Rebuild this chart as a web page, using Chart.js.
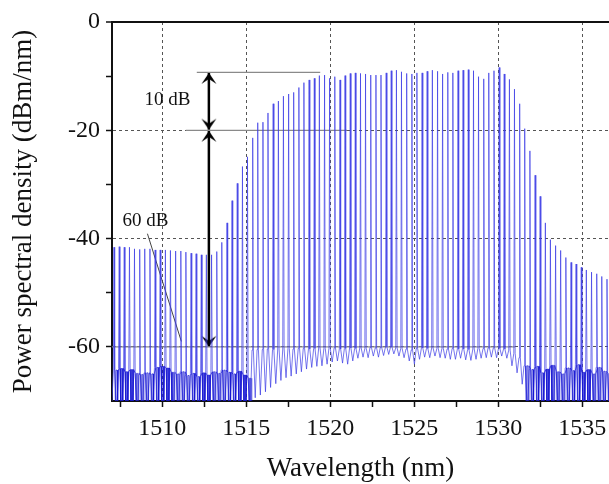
<!DOCTYPE html>
<html>
<head>
<meta charset="utf-8">
<script src="https://cdn.jsdelivr.net/npm/chart.js@4.4.0/dist/chart.umd.min.js"></script>
<style>
  html, body { margin: 0; padding: 0; background: #fff; }
  #wrap { width: 609px; height: 484px; }
</style>
</head>
<body>
<div id="wrap"><canvas id="chart" width="609" height="484"></canvas></div>
<script>
// comb line positions (nm)
const wavelengths = [1507.12,1507.43,1507.73,1508.04,1508.34,1508.65,1508.95,1509.26,1509.57,1509.87,
  1510.18,1510.48,1510.79,1511.10,1511.40,1511.71,1512.01,1512.32,1512.62,1512.93,
  1513.24,1513.54,1513.85,1514.15,1514.46,1514.77,1515.07,1515.38,1515.68,1515.99,
  1516.29,1516.60,1516.91,1517.21,1517.52,1517.82,1518.13,1518.43,1518.74,1519.05,
  1519.35,1519.66,1519.96,1520.27,1520.58,1520.88,1521.19,1521.49,1521.80,1522.10,
  1522.41,1522.72,1523.02,1523.33,1523.63,1523.94,1524.24,1524.55,1524.86,1525.16,
  1525.47,1525.77,1526.08,1526.39,1526.69,1527.00,1527.30,1527.61,1527.91,1528.22,
  1528.53,1528.83,1529.14,1529.44,1529.75,1530.06,1530.36,1530.67,1530.97,1531.28,
  1531.58,1531.89,1532.20,1532.50,1532.81,1533.11,1533.42,1533.72,1534.03,1534.34,
  1534.64,1534.95,1535.25,1535.56,1535.87,1536.17,1536.48];

// peak power of each line (dBm/nm)
const peakLevels = [-41.6,-41.5,-41.6,-41.6,-41.9,-42.0,-41.9,-41.9,-42.1,-42.1,
  -42.1,-42.2,-42.3,-42.3,-42.5,-42.7,-42.8,-43.0,-43.0,-43.0,
  -42.4,-40.7,-37.1,-33.0,-29.8,-26.7,-24.9,-21.4,-18.6,-18.5,
  -16.8,-15.1,-14.6,-13.7,-13.3,-13.0,-12.1,-11.2,-10.7,-10.4,
  -9.9,-9.8,-10.4,-10.1,-10.7,-9.9,-9.5,-9.4,-9.5,-9.6,
  -9.8,-9.8,-9.8,-9.4,-9.0,-8.9,-9.2,-9.5,-9.6,-9.4,
  -9.4,-9.1,-8.9,-9.1,-9.6,-9.3,-9.4,-9.0,-8.9,-8.8,
  -9.0,-10.1,-10.5,-9.4,-9.0,-8.4,-9.6,-10.6,-12.4,-15.1,
  -19.7,-23.8,-28.3,-32.2,-37.1,-40.2,-41.3,-42.2,-43.5,-44.4,
  -44.7,-45.3,-45.8,-46.2,-46.5,-47.0,-47.5];

// level at the foot of each line
const kneeLevels = [-64.3,-64.0,-64.6,-64.2,-64.9,-65.1,-64.8,-65.0,-63.8,-63.6,
  -63.9,-64.7,-65.0,-64.6,-65.3,-64.9,-65.5,-64.8,-65.2,-64.6,
  -64.9,-64.3,-64.7,-65.0,-64.5,-65.2,-65.8,
  -60.6,-60.5,-60.5,-60.4,-60.5,-60.4,-60.4,-60.3,-60.4,-60.3,
  -60.3,-60.4,-60.3,-60.2,-60.3,-60.3,-60.2,-60.4,-60.3,-60.2,
  -60.3,-60.2,-60.3,-60.1,-60.2,-60.1,-60.0,-60.0,-60.2,-60.3,
  -60.4,-60.6,-60.3,-60.2,-60.3,-60.2,-60.3,-60.3,-60.4,-60.3,
  -60.4,-60.4,-60.5,-60.4,-60.3,-60.3,-60.2,-60.2,-60.3,-60.4,
  -60.6,-61.2,-62.0,
  -63.5,-64.2,-63.6,-64.8,-64.1,-63.4,-64.6,-65.0,-63.9,-64.4,
  -63.3,-64.7,-64.2,-65.0,-63.8,-64.5,-64.9];

// minimum between neighbouring lines
const dipLevels = [-72,-72,-72,-72,-72,-72,-72,-72,-72,-72,
  -72,-72,-72,-72,-72,-72,-72,-72,-72,-72,
  -72,-72,-72,-72,-72,-72,-72,
  -69.4,-68.9,-68.3,-67.5,-66.8,-66.2,-65.7,-65.4,-65.0,-64.6,
  -64.1,-63.8,-63.6,-63.5,-63.2,-62.8,-62.6,-63.0,-63.2,-62.6,
  -62.1,-61.9,-62.0,-61.7,-61.9,-61.6,-61.4,-61.3,-61.7,-62.0,
  -62.6,-63.2,-62.3,-61.9,-62.0,-61.7,-62.0,-62.1,-62.3,-62.3,
  -62.1,-62.4,-62.5,-62.3,-62.1,-62.0,-61.9,-62.0,-61.7,-62.1,
  -63.5,-64.8,-66.9,
  -72,-72,-72,-72,-72,-72,-72,-72,-72,-72,
  -72,-72,-72,-72,-72,-72,-72];

// axes
const xRange = [1507, 1536.6];
const yRange = [-70, 0];
const xTicks = [1507.5, 1510, 1512.5, 1515, 1517.5, 1520, 1522.5, 1525, 1527.5, 1530, 1532.5, 1535];
const xLabels = [1510, 1515, 1520, 1525, 1530, 1535];
const yTicks = [-60, -50, -40, -30, -20, -10, 0];
const yLabels = [-60, -40, -20, 0];

// annotations
const arrowX = 1512.77;
const arrowUpper = [-9.4, -19.9];
const arrowLower = [-20.1, -60];
const guideLevels = [-9.3, -20, -60];
const guideStart = [1512.05, 1511.4, 1507.0];
const guideEnd = [1519.4, 1521.0, 1531.0];
const pointerX = [1509.11, 1511.13];
const pointerY = [-39.1, -59.0];
const noteTexts = ['10 dB', '60 dB'];
const noteX = [1510.3, 1508.99];
const noteY = [-14.4, -36.8];

const serif = '"Liberation Serif", "Times New Roman", serif';

// build the spectrum trace from the line table
const spectrum = [];
const noise = [];
spectrum.push({ x: wavelengths[0] - 0.15, y: dipLevels[0] });
for (let i = 0; i < wavelengths.length; i++) {
  const w = wavelengths[i];
  const next = i + 1 < wavelengths.length ? wavelengths[i + 1] : w + 0.3;
  const mid = (w + next) / 2;
  spectrum.push({ x: w - 0.04, y: kneeLevels[i] });
  spectrum.push({ x: w, y: peakLevels[i] });
  spectrum.push({ x: w + 0.04, y: kneeLevels[i] });
  spectrum.push({ x: mid, y: dipLevels[i] });
  if (dipLevels[i] <= -70) {
    noise.push({ x: w + 0.05, y: kneeLevels[i] });
    noise.push({ x: w + 0.09, y: dipLevels[i] });
    noise.push({ x: w + 0.12, y: kneeLevels[i] });
    noise.push({ x: mid + 0.03, y: kneeLevels[i] });
    noise.push({ x: mid + 0.06, y: dipLevels[i] });
    noise.push({ x: mid + 0.1, y: kneeLevels[i] });
  } else {
    noise.push({ x: w, y: null });
  }
}

function arrowHead() {
  const c = document.createElement("canvas");
  c.width = 16;
  c.height = 24;
  const g = c.getContext("2d");
  g.fillStyle = "#000";
  g.beginPath();
  g.moveTo(8, 12);
  g.lineTo(15.5, 23);
  g.lineTo(8, 18);
  g.lineTo(0.5, 23);
  g.closePath();
  g.fill();
  return c;
}
const head = arrowHead();

const guides = guideLevels.map((lv, i) => ({
  data: [{ x: guideStart[i], y: lv }, { x: guideEnd[i], y: lv }],
  borderColor: "#8a8a8a",
  borderWidth: 1.2,
  pointRadius: 0,
}));

const notesPlugin = {
  id: "notes",
  afterDatasetsDraw(chart) {
    const { ctx, scales } = chart;
    ctx.save();
    ctx.font = "19px " + serif;
    ctx.fillStyle = "#111";
    ctx.textAlign = "center";
    ctx.textBaseline = "middle";
    noteTexts.forEach((t, i) => {
      ctx.fillText(t, scales.x.getPixelForValue(noteX[i]), scales.y.getPixelForValue(noteY[i]));
    });
    ctx.restore();
  },
};

new Chart(document.getElementById("chart"), {
  type: "line",
  data: {
    datasets: [
      {
        data: noise,
        borderColor: "rgba(20,20,210,0.7)",
        borderWidth: 1,
        pointRadius: 0,
        spanGaps: false,
      },
      {
        data: spectrum,
        borderColor: "rgba(60,60,230,0.7)",
        borderWidth: 1,
        pointRadius: 0,
      },
      ...guides,
      {
        data: [{ x: pointerX[0], y: pointerY[0] }, { x: pointerX[1], y: pointerY[1] }],
        borderColor: "#444",
        borderWidth: 1,
        pointRadius: 0,
      },
      {
        data: arrowUpper.map((v) => ({ x: arrowX, y: v })),
        borderColor: "#000",
        borderWidth: 2.5,
        pointStyle: [head, head],
        pointRotation: [0, 180],
        pointRadius: 1,
      },
      {
        data: arrowLower.map((v) => ({ x: arrowX, y: v })),
        borderColor: "#000",
        borderWidth: 2.5,
        pointStyle: [head, head],
        pointRotation: [0, 180],
        pointRadius: 1,
      },
    ],
  },
  options: {
    responsive: false,
    animation: false,
    devicePixelRatio: 1,
    layout: { autoPadding: false, padding: { top: 22, right: 0, left: 0, bottom: 0 } },
    plugins: { legend: { display: false }, tooltip: { enabled: false } },
    elements: { line: { tension: 0 } },
    scales: {
      x: {
        type: "linear",
        min: xRange[0],
        max: xRange[1],
        afterBuildTicks: (s) => { s.ticks = xTicks.map((v) => ({ value: v })); },
        afterFit: (s) => {
          s.height = 83;
          s.paddingLeft = 0;
          s.paddingRight = 0;
        },
        ticks: {
          autoSkip: false,
          maxRotation: 0,
          padding: 7,
          color: "#111",
          font: { family: serif, size: 24 },
          callback: (v) => (xLabels.includes(v) ? String(v) : ""),
        },
        grid: {
          color: (c) => (c.tick && xLabels.includes(c.tick.value) ? "#555" : "rgba(0,0,0,0)"),
          lineWidth: 1,
          tickColor: "#111",
          tickLength: 6,
          tickWidth: 1.5,
        },
        border: { color: "#111", width: 2, dash: [3, 3] },
        title: {
          display: true,
          text: "Wavelength (nm)",
          color: "#111",
          font: { family: serif, size: 27, lineHeight: 1 },
          padding: { top: 0, bottom: 2 },
        },
      },
      y: {
        min: yRange[0],
        max: yRange[1],
        afterBuildTicks: (s) => { s.ticks = yTicks.map((v) => ({ value: v })); },
        afterFit: (s) => {
          s.width = 112;
          s.paddingTop = 0;
          s.paddingBottom = 0;
        },
        ticks: {
          autoSkip: false,
          padding: 6,
          color: "#111",
          font: { family: serif, size: 24 },
          callback: (v) => (yLabels.includes(v) ? String(v) : ""),
        },
        grid: {
          color: (c) => {
            if (!c.tick) return "rgba(0,0,0,0)";
            if (c.tick.value === 0) return "#111";
            return yLabels.includes(c.tick.value) ? "#555" : "rgba(0,0,0,0)";
          },
          lineWidth: (c) => (c.tick && c.tick.value === 0 ? 2 : 1),
          tickColor: "#111",
          tickLength: 6,
          tickWidth: 1.5,
        },
        border: {
          color: "#111",
          width: 2,
          dash: (c) => (c.tick && c.tick.value === 0 ? [] : [3, 3]),
        },
        title: {
          display: true,
          text: "Power spectral density (dBm/nm)",
          color: "#111",
          font: { family: serif, size: 27, lineHeight: 1 },
          padding: { top: 10, bottom: 0 },
        },
      },
    },
  },
  plugins: [notesPlugin],
});
</script>
</body>
</html>
